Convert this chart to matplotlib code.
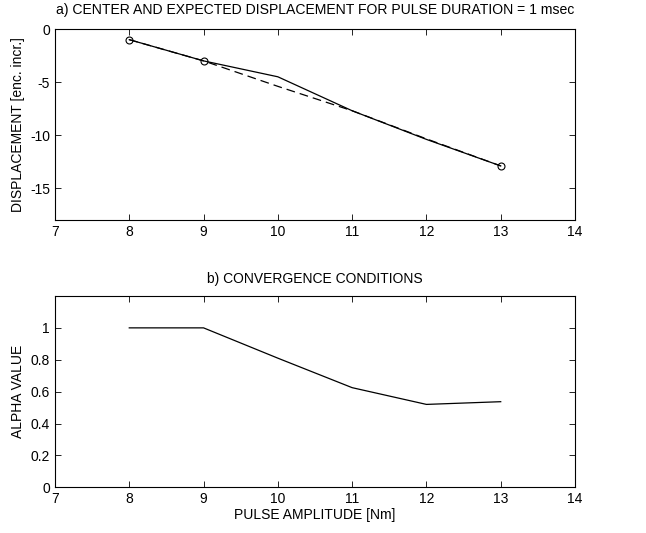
import numpy as np
import matplotlib.pyplot as plt

plt.rcParams['font.family'] = ['Liberation Sans', 'DejaVu Sans']
plt.rcParams['font.size'] = 10
plt.rcParams['axes.unicode_minus'] = False

# данные
amp = [8, 9, 10, 11, 12, 13]
center = [-1.0, -3.0, -4.5, -7.7, -10.4, -12.9]
expected = [-1.0, -3.0, -5.4, -7.7, -10.35, -12.9]
circ_x = [8, 9, 13]
circ_y = [-1.0, -3.0, -12.9]
alpha = [1.0, 1.0, 0.81, 0.625, 0.52, 0.537]

fig = plt.figure(figsize=(6.46, 5.33), dpi=100)
ax1 = fig.add_axes([0.0851, 0.5872, 0.805, 0.3583])
ax2 = fig.add_axes([0.0851, 0.0857, 0.805, 0.359])

for ax in (ax1, ax2):
    ax.tick_params(direction='in', top=True, right=True, length=4, width=0.6)
    for s in ax.spines.values():
        s.set_linewidth(0.8)
    ax.set_xlim(7, 14)
    ax.set_xticks(np.arange(7, 15))

"""Верхний график"""
ax1.plot(amp, center, color='k', lw=0.9)
ax1.plot(amp, expected, color='k', lw=0.9, ls=(0, (7, 4)))
ax1.plot(circ_x, circ_y, 'o', mfc='none', mec='k', ms=5, mew=0.8)
ax1.set_ylim(-18, 0)
ax1.set_yticks([0, -5, -10, -15])
ax1.set_ylabel('DISPLACEMENT [enc. incr.]')
ax1.set_title('a) CENTER AND EXPECTED DISPLACEMENT FOR PULSE DURATION = 1 msec', fontsize=10.1, pad=11)

"""Нижний график"""
ax2.plot(amp, alpha, color='k', lw=0.9)
ax2.set_ylim(0, 1.2)
ax2.set_yticks([0, 0.2, 0.4, 0.6, 0.8, 1])
ax2.set_yticklabels(['0', '0.2', '0.4', '0.6', '0.8', '1'])
ax2.set_ylabel('ALPHA VALUE')
ax2.set_xlabel('PULSE AMPLITUDE [Nm]', labelpad=1)
ax2.set_title('b) CONVERGENCE CONDITIONS', fontsize=10, pad=9)

fig.savefig('out.png', dpi=100)
